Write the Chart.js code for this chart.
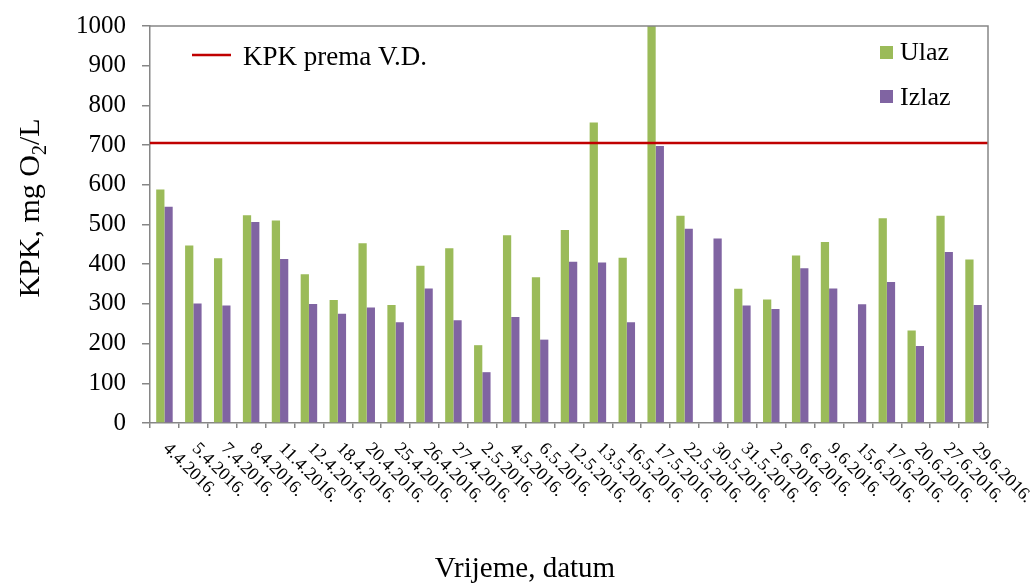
<!DOCTYPE html>
<html>
<head>
<meta charset="utf-8">
<script src="https://cdn.jsdelivr.net/npm/chart.js@4.4.1/dist/chart.umd.min.js"></script>
<style>
  html, body { margin: 0; padding: 0; background: #fff; }
  #wrap { width: 1034px; height: 586px; }
</style>
</head>
<body>
<div id="wrap"><canvas id="c" width="1034" height="586"></canvas></div>
<script>
const categories = ['4.4.2016.', '5.4.2016.', '7.4.2016.', '8.4.2016.', '11.4.2016.', '12.4.2016.', '18.4.2016.', '20.4.2016.', '25.4.2016.', '26.4.2016.', '27.4.2016.', '2.5.2016.', '4.5.2016.', '6.5.2016.', '12.5.2016.', '13.5.2016.', '16.5.2016.', '17.5.2016.', '22.5.2016.', '30.5.2016.', '31.5.2016.', '2.6.2016.', '6.6.2016.', '9.6.2016.', '15.6.2016.', '17.6.2016.', '20.6.2016.', '27.6.2016.', '29.6.2016.'];
const ulaz = [588, 447, 415, 523, 510, 375, 310, 453, 297, 396, 440, 196, 473, 367, 486, 757, 416, 1000, 522, null, 338, 311, 422, 456, null, 516, 233, 522, 412];
const izlaz = [545, 301, 296, 506, 413, 300, 275, 291, 254, 339, 259, 128, 267, 210, 406, 404, 254, 698, 489, 465, 296, 287, 390, 339, 299, 355, 194, 431, 297];
const limitValue = [705];
const yTicks = [0, 100, 200, 300, 400, 500, 600, 700, 800, 900, 1000];

const SERIF = "'Liberation Serif', 'Times New Roman', serif";
const AXIS_COLOR = '#868686';

const overlay = {
  id: 'overlay',
  afterDatasetsDraw(chart) {
    const ctx = chart.ctx;
    const a = chart.chartArea;
    const ys = chart.scales.y;
    // limit line (KPK prema V.D.) drawn through the y scale
    ctx.save();
    ctx.strokeStyle = '#C00000';
    ctx.lineWidth = 2.5;
    limitValue.forEach(v => {
      const py = ys.getPixelForValue(v);
      ctx.beginPath();
      ctx.moveTo(a.left, py);
      ctx.lineTo(a.right, py);
      ctx.stroke();
    });
    ctx.restore();
  },
  afterDraw(chart) {
    const ctx = chart.ctx;
    const a = chart.chartArea;
    const xs = chart.scales.x;
    ctx.save();
    // box top/right
    ctx.strokeStyle = AXIS_COLOR;
    ctx.lineWidth = 1.5;
    ctx.beginPath();
    ctx.moveTo(a.left, a.top);
    ctx.lineTo(a.right, a.top);
    ctx.lineTo(a.right, a.bottom);
    ctx.stroke();

    // x labels rotated
    ctx.fillStyle = '#000';
    ctx.font = '18px ' + SERIF;
    ctx.textAlign = 'left';
    ctx.textBaseline = 'middle';
    categories.forEach((lab, i) => {
      const cx = xs.getPixelForValue(i);
      ctx.save();
      ctx.translate(cx + 1.5, a.bottom + 23);
      ctx.rotate(Math.PI / 4);
      ctx.fillText(lab, 0, 0);
      ctx.restore();
    });

    // x title
    ctx.font = '29px ' + SERIF;
    ctx.textAlign = 'center';
    ctx.textBaseline = 'alphabetic';
    ctx.fillText('Vrijeme, datum', 525, 577);

    // y title with subscript
    const F = 30;
    const parts = [['KPK, mg O', F, 0], ['2', Math.round(F * 0.65), F * 0.22], ['/L', F, 0]];
    ctx.save();
    ctx.translate(39, 208);
    ctx.rotate(-Math.PI / 2);
    let total = 0;
    parts.forEach(p => { ctx.font = p[1] + 'px ' + SERIF; total += ctx.measureText(p[0]).width; });
    let x = -total / 2;
    ctx.textAlign = 'left';
    parts.forEach(p => {
      ctx.font = p[1] + 'px ' + SERIF;
      ctx.fillText(p[0], x, p[2]);
      x += ctx.measureText(p[0]).width;
    });
    ctx.restore();

    // legend: limit line
    ctx.strokeStyle = '#C00000';
    ctx.lineWidth = 2.5;
    ctx.beginPath();
    ctx.moveTo(192, 55);
    ctx.lineTo(231, 55);
    ctx.stroke();
    ctx.font = '27px ' + SERIF;
    ctx.textAlign = 'left';
    ctx.textBaseline = 'alphabetic';
    ctx.fillStyle = '#000';
    ctx.fillText('KPK prema V.D.', 243, 65);

    // legend: series
    const items = [['Ulaz', '#9BBB59', 46, 60], ['Izlaz', '#8064A2', 90, 105]];
    ctx.font = '26px ' + SERIF;
    items.forEach(it => {
      ctx.fillStyle = it[1];
      ctx.fillRect(880, it[2], 13, 13);
      ctx.fillStyle = '#000';
      ctx.fillText(it[0], 900, it[3]);
    });
    ctx.restore();
  }
};

new Chart(document.getElementById('c'), {
  type: 'bar',
  data: {
    labels: categories,
    datasets: [
      { label: 'Ulaz', data: ulaz, backgroundColor: '#9BBB59', categoryPercentage: 0.571, barPercentage: 1 },
      { label: 'Izlaz', data: izlaz, backgroundColor: '#8064A2', categoryPercentage: 0.571, barPercentage: 1 }
    ]
  },
  options: {
    responsive: false,
    animation: false,
    layout: { padding: { top: 26, right: 46, left: 0, bottom: 0 } },
    plugins: { legend: { display: false }, tooltip: { enabled: false } },
    scales: {
      x: {
        offset: true,
        grid: { offset: true, drawOnChartArea: false, drawTicks: true, tickLength: 5, color: AXIS_COLOR, lineWidth: 1.5 },
        border: { color: AXIS_COLOR, width: 1.5 },
        ticks: { display: false },
        afterFit(s) { s.height = 163; s.paddingLeft = 0; s.paddingRight = 0; }
      },
      y: {
        min: 0, max: 1000,
        afterBuildTicks(s) { s.ticks = yTicks.map(v => ({ value: v })); },
        ticks: { color: '#000', font: { family: SERIF, size: 25 }, padding: 16, callback: v => String(v) },
        grid: { drawOnChartArea: false, tickLength: 8, color: AXIS_COLOR, lineWidth: 1.5 },
        border: { color: AXIS_COLOR, width: 1.5 },
        afterFit(s) { s.width = 150; s.paddingTop = 0; s.paddingBottom = 0; }
      }
    }
  },
  plugins: [overlay]
});
</script>
</body>
</html>
